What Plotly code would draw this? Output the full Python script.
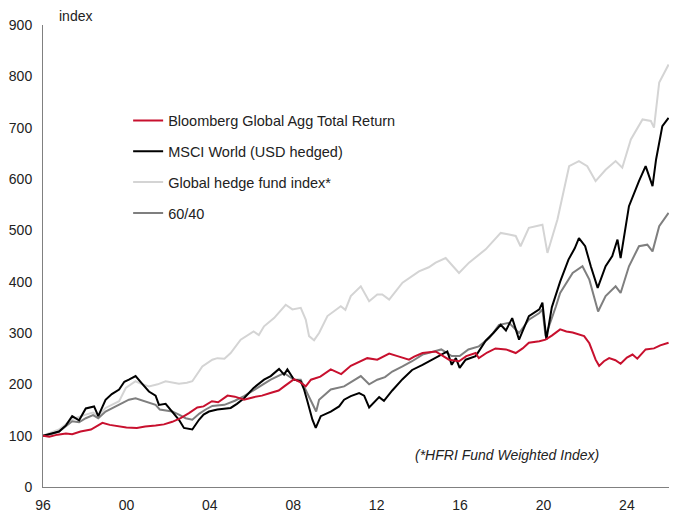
import plotly.graph_objects as go

# values (x = decimal year, y = index, 1996 = 100)
bbg_x = [1996.0, 1996.3, 1996.7, 1997.1, 1997.4, 1997.8, 1998.3, 1998.6, 1998.85, 1999.2, 1999.6,
         2000.0, 2000.5, 2000.9, 2001.4, 2001.8, 2002.2, 2002.6, 2003.0, 2003.4, 2003.7, 2004.1,
         2004.4, 2004.85, 2005.2, 2005.64, 2006.1, 2006.5, 2006.9, 2007.3, 2007.6, 2008.04, 2008.3,
         2008.6, 2008.85, 2009.3, 2009.8, 2010.3, 2010.76, 2011.1, 2011.55, 2012.03, 2012.6, 2013.0,
         2013.55, 2013.8, 2014.2, 2014.83, 2015.2, 2015.47, 2015.95, 2016.3, 2016.75, 2016.9, 2017.3,
         2017.7, 2018.2, 2018.67, 2019.0, 2019.3, 2019.8, 2020.1, 2020.4, 2020.8, 2021.1, 2021.4,
         2021.95, 2022.2, 2022.35, 2022.5, 2022.67, 2022.9, 2023.15, 2023.45, 2023.7, 2024.0, 2024.27,
         2024.5, 2024.9, 2025.3, 2025.6, 2026.0]
bbg_y = [100, 98, 102, 104, 103, 108, 112, 120, 125, 121, 118,
         116, 115, 118, 120, 122, 127, 134, 144, 155, 157, 167,
         165, 178, 176, 170, 175, 178, 183, 188, 197, 210, 205,
         196, 209, 215, 229, 220, 236, 243, 251, 248, 260, 255,
         248, 254, 261, 264, 255, 248, 245, 255, 261, 251, 262,
         270, 268, 261, 270, 281, 284, 287, 295, 307, 303, 301,
         294, 280, 264, 248, 236, 245, 251, 247, 240, 252, 258,
         250, 268, 270, 276, 281]

msci_x = [1996.0, 1996.4, 1996.77, 1997.1, 1997.4, 1997.73, 1998.05, 1998.45, 1998.65, 1999.0, 1999.3,
          1999.65, 1999.9, 2000.12, 2000.44, 2000.76, 2001.08, 2001.4, 2001.56, 2001.88, 2002.2, 2002.52,
          2002.76, 2003.16, 2003.48, 2003.7, 2003.96, 2004.36, 2005.0, 2005.3, 2005.64, 2006.1, 2006.6,
          2006.92, 2007.32, 2007.56, 2007.72, 2008.04, 2008.36, 2008.52, 2008.68, 2008.92, 2009.08, 2009.32,
          2009.8, 2010.2, 2010.44, 2010.76, 2011.16, 2011.4, 2011.64, 2011.9, 2012.12, 2012.35, 2012.75,
          2013.24, 2013.7, 2014.2, 2014.67, 2015.07, 2015.39, 2015.6, 2015.8, 2015.98, 2016.27, 2016.75,
          2017.23, 2017.6, 2017.95, 2018.2, 2018.5, 2018.83, 2019.3, 2019.8, 2019.95, 2020.14, 2020.4,
          2020.8, 2021.2, 2021.5, 2021.7, 2022.0, 2022.27, 2022.6, 2022.98, 2023.3, 2023.55, 2023.7,
          2024.1, 2024.58, 2024.9, 2025.23, 2025.4, 2025.7, 2026.0]
msci_y = [100, 104, 108, 120, 138, 130, 153, 157, 138, 170, 181,
          190, 205, 209, 216, 201, 186, 178, 160, 162, 147, 131,
          115, 112, 131, 141, 147, 151, 154, 162, 173, 193, 209,
          216, 230, 219, 229, 209, 206, 190, 167, 131, 115, 138,
          147, 157, 170, 177, 183, 178, 155, 165, 175, 168, 188,
          210, 228, 238, 248, 258, 264, 238, 251, 232, 248, 255,
          285, 300, 316, 305, 329, 287, 333, 346, 359, 287, 350,
          400, 443, 465, 485, 469, 430, 388, 430, 450, 482, 446,
          547, 596, 625, 586, 638, 703, 719]

hf_x = [1996.0, 1996.4, 1996.77, 1997.4, 1997.8, 1998.05, 1998.4, 1998.65, 1999.0, 1999.65, 1999.97,
        2000.44, 2000.76, 2001.08, 2001.5, 2001.88, 2002.52, 2002.9, 2003.16, 2003.64, 2004.12, 2004.36,
        2004.7, 2005.0, 2005.48, 2006.1, 2006.35, 2006.6, 2007.08, 2007.64, 2007.96, 2008.36, 2008.6,
        2008.76, 2009.0, 2009.24, 2009.64, 2010.28, 2010.5, 2010.76, 2011.24, 2011.64, 2012.03, 2012.27,
        2012.6, 2013.24, 2014.03, 2014.5, 2014.83, 2015.31, 2015.95, 2016.43, 2017.23, 2017.95, 2018.35,
        2018.67, 2018.9, 2019.3, 2019.95, 2020.19, 2020.67, 2021.23, 2021.7, 2022.1, 2022.5, 2022.98,
        2023.46, 2023.78, 2024.19, 2024.75, 2025.15, 2025.3, 2025.55, 2026.0]
hf_y = [100, 106, 112, 132, 138, 141, 145, 138, 154, 167, 193,
        206, 200, 196, 200, 206, 201, 203, 206, 235, 248, 251,
        250, 261, 287, 303, 296, 313, 329, 355, 346, 349, 326,
        294, 286, 300, 333, 352, 345, 372, 391, 362, 375, 375,
        365, 398, 420, 428, 437, 446, 417, 437, 463, 495, 492,
        489, 469, 505, 511, 456, 521, 625, 635, 625, 596, 618,
        635, 622, 677, 716, 713, 700, 788, 823]

mix_x = [1996.0, 1996.4, 1996.77, 1997.4, 1997.73, 1998.05, 1998.4, 1998.65, 1999.0, 1999.65, 2000.12,
         2000.44, 2000.92, 2001.4, 2001.6, 2002.2, 2002.52, 2002.84, 2003.16, 2003.5, 2003.8, 2004.12,
         2004.7, 2005.2, 2005.64, 2006.28, 2006.92, 2007.56, 2008.04, 2008.36, 2008.68, 2009.0, 2009.1,
         2009.24, 2009.8, 2010.44, 2010.92, 2011.24, 2011.64, 2012.03, 2012.4, 2012.75, 2013.24, 2013.7,
         2014.2, 2014.67, 2015.1, 2015.6, 2015.98, 2016.4, 2016.9, 2017.4, 2017.87, 2018.35, 2018.83,
         2019.3, 2019.8, 2019.95, 2020.1, 2020.6, 2020.8, 2021.4, 2021.87, 2022.2, 2022.4, 2022.62,
         2022.98, 2023.46, 2023.7, 2024.1, 2024.58, 2024.98, 2025.23, 2025.55, 2026.0]
mix_y = [100, 103, 108, 128, 126, 134, 140, 134, 147, 160, 170,
         173, 167, 160, 151, 147, 141, 134, 131, 143, 151, 158,
         160, 168, 177, 193, 209, 222, 209, 209, 183, 154, 147,
         170, 190, 196, 209, 216, 200, 209, 214, 225, 235, 245,
         258, 264, 268, 255, 255, 268, 274, 290, 316, 320, 300,
         326, 339, 346, 294, 352, 378, 417, 430, 404, 372, 342,
         372, 391, 378, 430, 469, 472, 459, 508, 534]

tick_years = [1996, 2000, 2004, 2008, 2012, 2016, 2020, 2024]
tick_text = ["96", "00", "04", "08", "12", "16", "20", "24"]

font_name = "Liberation Sans"
txt_color = "#222222"

fig = go.Figure()

# drawn bottom to top; legendrank keeps the legend order of the original
fig.add_trace(go.Scatter(x=hf_x, y=hf_y, mode="lines", name="Global hedge fund index*",
                         line=dict(color="#d4d4d4", width=2), legendgroup="c", legendrank=3))
fig.add_trace(go.Scatter(x=mix_x, y=mix_y, mode="lines", name="60/40",
                         line=dict(color="#7f7f7f", width=2), legendgroup="d", legendrank=4))
fig.add_trace(go.Scatter(x=msci_x, y=msci_y, mode="lines", name="MSCI World (USD hedged)",
                         line=dict(color="#000000", width=2), legendgroup="b", legendrank=2))
fig.add_trace(go.Scatter(x=bbg_x, y=bbg_y, mode="lines", name="Bloomberg Global Agg Total Return",
                         line=dict(color="#c8102e", width=2), legendgroup="a", legendrank=1))

fig.add_annotation(text="index", xref="paper", yref="paper", x=0.023, y=1.0, yshift=9,
                   xanchor="left", yanchor="middle", showarrow=False,
                   font=dict(family=font_name, size=14, color=txt_color))
fig.add_annotation(text="<i>(*HFRI Fund Weighted Index)</i>", xref="paper", yref="y",
                   x=0.742, y=62, xanchor="center", yanchor="middle", showarrow=False,
                   font=dict(family=font_name, size=14, color=txt_color))

# the page body keeps its default 8px margin, so the figure is 16px smaller
fig.update_layout(
    width=671, height=519,
    margin=dict(l=35, r=10, t=17, b=40),
    paper_bgcolor="white", plot_bgcolor="white",
    font=dict(family=font_name, size=14, color=txt_color),
    showlegend=True,
    legend=dict(x=0.136, y=0.828, xanchor="left", yanchor="top",
                bgcolor="rgba(0,0,0,0)", tracegroupgap=9,
                font=dict(family=font_name, size=14.5, color=txt_color)),
    xaxis=dict(range=[1996, 2026.02], tickvals=tick_years, ticktext=tick_text,
               showgrid=False, zeroline=False, showline=True, linecolor="#808080",
               linewidth=1, ticks="", ticklabelstandoff=5, automargin=False),
    yaxis=dict(range=[0, 900], dtick=100, showgrid=False, zeroline=False,
               showline=True, linecolor="#808080", linewidth=1, ticks="",
               ticklabelstandoff=7, automargin=False),
)

fig.write_html("out.html")
